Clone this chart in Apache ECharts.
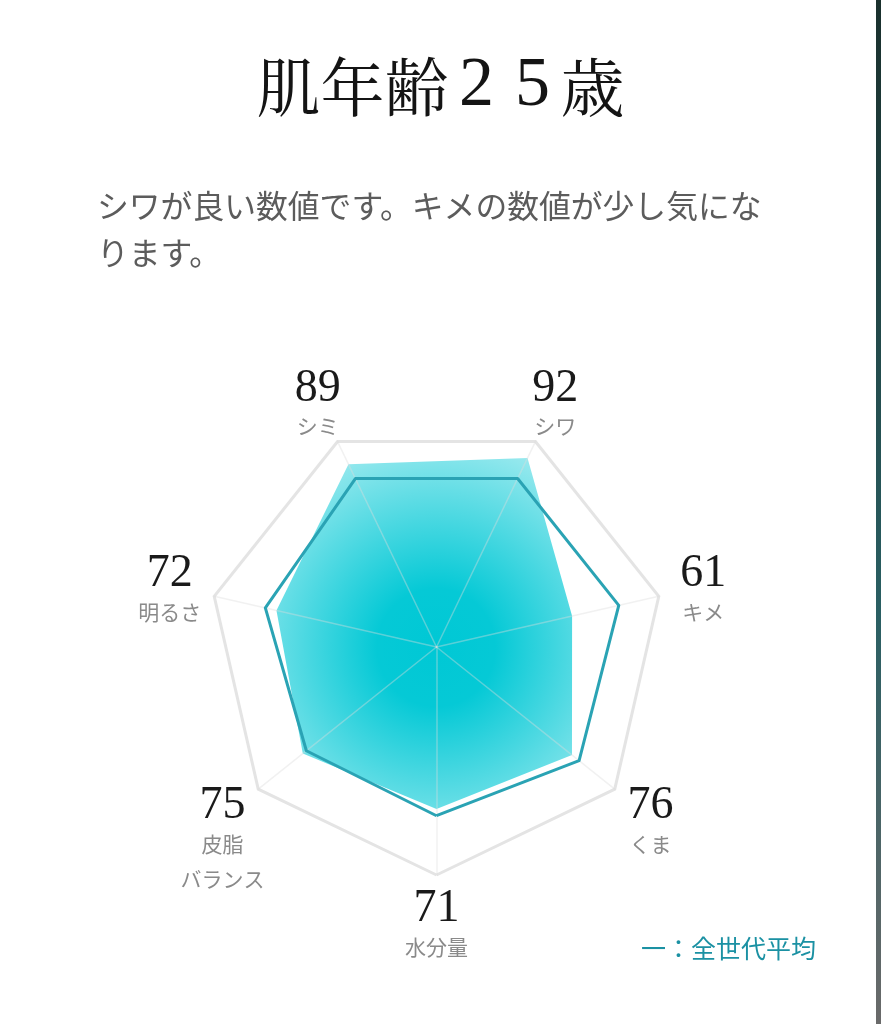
<!DOCTYPE html>
<html><head><meta charset="utf-8">
<script src="https://cdn.jsdelivr.net/npm/echarts@6/dist/echarts.min.js"></script>
<style>html,body{margin:0;padding:0;background:#fff}#c{width:881px;height:1024px}</style>
</head><body><div id="c"></div>
<script>
// ---- data ----
const indicatorNames = ['水分量', 'くま', 'キメ', 'シワ', 'シミ', '明るさ', '皮脂\nバランス'];
const scores = [71, 76, 61, 92, 89, 72, 75];
const averages = [74, 80, 82, 82, 82, 77, 73];
const maxValue = 100;
const titlePre = '肌年齢';
const titleAge = '25';
const titlePost = '歳';
const commentLines = ['シワが良い数値です。キメの数値が少し気にな', 'ります。'];
const legendText = '一：全世代平均';

// ---- styles ----
const CJK = '"Noto Sans CJK JP", "Noto Sans", sans-serif';
const SERIF = '"Liberation Serif", "DejaVu Serif", serif';
const LINE_COLOR = '#2aa3b4';

const chart = echarts.init(document.getElementById('c'), null, {renderer: 'canvas'});

const option = {
  backgroundColor: '#ffffff',
  animation: false,
  radar: {
    center: [436.5, 647],
    radius: 228,
    startAngle: 270,
    shape: 'polygon',
    splitNumber: 1,
    z: 3,
    indicator: indicatorNames.map(n => ({name: n, min: 0, max: maxValue})),
    axisName: {show: false},
    splitLine: {lineStyle: {color: '#e4e4e4', width: 3}},
    splitArea: {show: false},
    axisLine: {lineStyle: {color: 'rgba(220,220,220,0.4)', width: 1.5}},
    axisTick: {show: false},
    axisLabel: {show: false}
  },
  series: [
    {
      name: 'score', type: 'radar', z: 2, symbol: 'none', silent: true,
      lineStyle: {width: 0, opacity: 0},
      areaStyle: {
        opacity: 1,
        color: {
          type: 'radial', x: 0.54, y: 0.54, r: 0.8,
          colorStops: [
            {offset: 0, color: 'rgba(0,200,213,1)'},
            {offset: 0.25, color: 'rgba(0,200,213,0.98)'},
            {offset: 1, color: 'rgba(0,200,213,0.3)'}
          ]
        }
      },
      data: [{value: scores, name: 'score'}]
    },
    {
      name: 'average', type: 'radar', z: 4, symbol: 'none', silent: true,
      lineStyle: {color: LINE_COLOR, width: 3},
      data: [{value: averages, name: 'average'}]
    }
  ]
};
chart.setOption(option);

// ---- labels positioned through the radar coordinate system ----
const graphics = [];
// title
graphics.push({
  type: 'text', left: 'center', top: 52,
  style: {
    text: '{a|' + titlePre + '}' + titleAge.split('').map(d => '{d|' + d + '}').join('') + '{a|' + titlePost + '}',
    rich: {
      a: {fontFamily: '"Noto Serif CJK JP", ' + CJK, fontSize: 64, fill: '#141414', lineHeight: 78},
      d: {fontFamily: SERIF, fontSize: 70, fill: '#141414', width: 56, align: 'center', lineHeight: 78}
    }
  }
});
// comment
commentLines.forEach((t, i) => {
  graphics.push({
    type: 'text', x: 97, y: 206 + i * 47,
    style: {text: t, fontFamily: CJK, fontSize: 31.8, fill: '#5c5c5c', textAlign: 'left', textVerticalAlign: 'middle'}
  });
});
// legend
graphics.push({
  type: 'text', x: 641, y: 948,
  style: {text: legendText, fontFamily: CJK, fontSize: 25, fill: '#1b91a3', textAlign: 'left', textVerticalAlign: 'middle'}
});
// right edge strip
graphics.push({
  type: 'rect', right: 0, top: 0,
  shape: {width: 5, height: 1024},
  style: {fill: {type: 'linear', x: 0, y: 0, x2: 0, y2: 1, colorStops: [
    {offset: 0, color: '#1a302d'}, {offset: 0.6, color: '#2a5f63'}, {offset: 1, color: '#6a6a6a'}]}}
});

let coordSys = null;
try { coordSys = chart.getModel().getComponent('radar', 0).coordinateSystem; } catch (e) {}
indicatorNames.forEach((name, i) => {
  let p;
  if (coordSys && coordSys.dataToPoint) {
    p = coordSys.dataToPoint(maxValue * 1.2, i);
  } else {
    const a = (270 + i * 360 / indicatorNames.length) * Math.PI / 180;
    p = [436.5 + 274 * Math.cos(a), 647 - 274 * Math.sin(a)];
  }
  const cx = p[0], cy = p[1] + 3;
  graphics.push({
    type: 'text', x: cx, y: cy - 15,
    style: {text: String(scores[i]), fontFamily: SERIF, fontSize: 46, fill: '#1a1a1a', textAlign: 'center', textVerticalAlign: 'middle'}
  });
  name.split('\n').forEach((ln, k) => {
    graphics.push({
      type: 'text', x: cx, y: cy + 23 + k * 35,
      style: {text: ln, fontFamily: CJK, fontSize: 21, fill: '#8a8a8a', textAlign: 'center', textVerticalAlign: 'middle'}
    });
  });
});
chart.setOption({graphic: graphics});
</script>
</body></html>
